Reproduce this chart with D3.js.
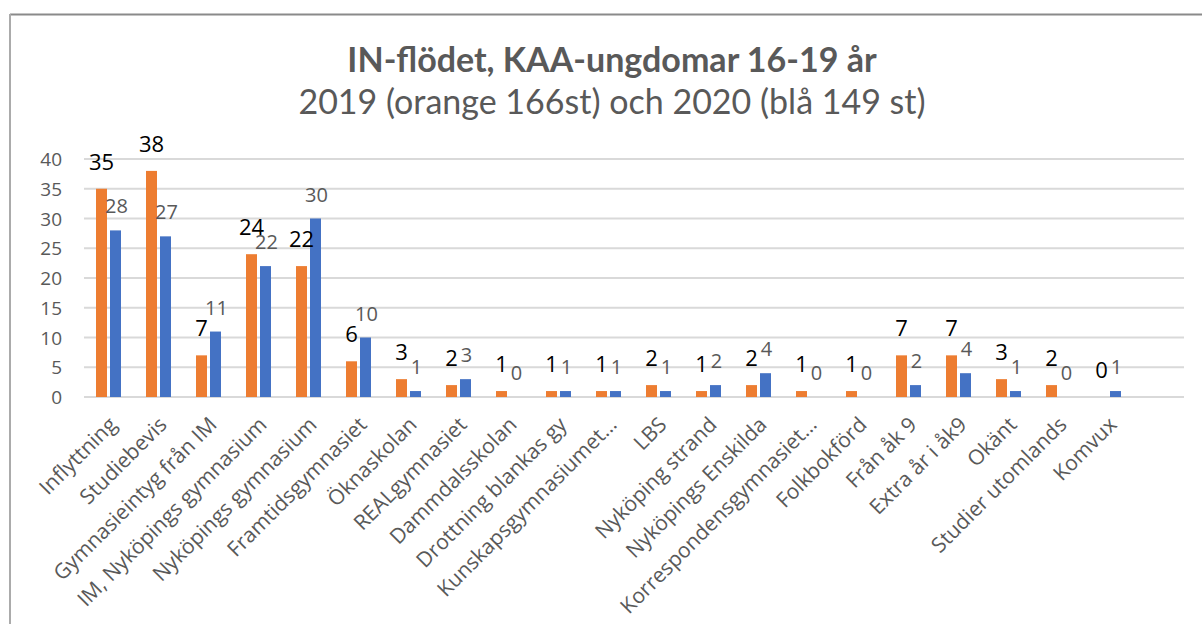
<!DOCTYPE html>
<html>
<head>
<meta charset="utf-8">
<script src="https://cdn.jsdelivr.net/npm/d3@7"></script>
<style>
  body { margin: 0; background: #fff; }
</style>
</head>
<body>
<div id="chart"></div>
<script>
const width = 1202;
const height = 624;

// categories and values (orange = 2019, blue = 2020)
const categories = [
  "Inflyttning", "Studiebevis", "Gymnasieintyg från IM", "IM, Nyköpings gymnasium",
  "Nyköpings gymnasium", "Framtidsgymnasiet", "Öknaskolan", "REALgymnasiet",
  "Dammdalsskolan", "Drottning blankas gy", "Kunskapsgymnasiumet…", "LBS",
  "Nyköping strand", "Nyköpings Enskilda", "Korrespondensgymnasiet…", "Folkbokförd",
  "Från åk 9", "Extra år i åk9", "Okänt", "Studier utomlands", "Komvux"
];
const values2019 = [35, 38, 7, 24, 22, 6, 3, 2, 1, 1, 1, 2, 1, 2, 1, 1, 7, 7, 3, 2, 0];
const values2020 = [28, 27, 11, 22, 30, 10, 1, 3, 0, 1, 1, 1, 2, 4, 0, 0, 2, 4, 1, 0, 1];
const yTicks = [0, 5, 10, 15, 20, 25, 30, 35, 40];

const svg = d3.select("#chart").append("svg")
  .attr("width", width)
  .attr("height", height)
  .style("font-family", "'Open Sans', sans-serif");

// chart frame (runs off the right and bottom edge)
svg.append("line").attr("x1", 10).attr("x2", width).attr("y1", 14.5).attr("y2", 14.5)
  .attr("stroke", "#8a8a8a").attr("stroke-width", 2);
svg.append("line").attr("x1", 10).attr("x2", 10).attr("y1", 14).attr("y2", height)
  .attr("stroke", "#ababab").attr("stroke-width", 2);

// one empty slot at the end, as in the source sheet
const x = d3.scaleBand()
  .domain(d3.range(categories.length + 1))
  .range([84, 1184]);

const y = d3.scaleLinear()
  .domain([0, 40])
  .range([397, 159]);

// gridlines
svg.append("g").selectAll("line")
  .data(yTicks)
  .enter().append("line")
  .attr("x1", 84).attr("x2", 1184)
  .attr("y1", d => y(d)).attr("y2", d => y(d))
  .attr("stroke", "#d9d9d9")
  .attr("stroke-width", 2);

// y axis labels
svg.append("g").selectAll("text")
  .data(yTicks)
  .enter().append("text")
  .attr("x", 62)
  .attr("y", d => y(d) + 7)
  .attr("text-anchor", "end")
  .attr("fill", "#595959")
  .style("font-size", "19px")
  .text(d => d);

const barW = 11;

// bars
svg.append("g").selectAll("rect")
  .data(values2019)
  .enter().append("rect")
  .attr("x", (d, i) => x(i) + 12)
  .attr("y", d => y(d))
  .attr("width", barW)
  .attr("height", d => y(0) - y(d))
  .attr("fill", "#ED7D31");

svg.append("g").selectAll("rect")
  .data(values2020)
  .enter().append("rect")
  .attr("x", (d, i) => x(i) + 26)
  .attr("y", d => y(d))
  .attr("width", barW)
  .attr("height", d => y(0) - y(d))
  .attr("fill", "#4472C4");

// data labels
svg.append("g").selectAll("text")
  .data(values2019)
  .enter().append("text")
  .attr("x", (d, i) => x(i) + 12 + barW / 2)
  .attr("y", d => y(d) - 19)
  .attr("text-anchor", "middle")
  .attr("fill", "#000")
  .style("font-size", "22px")
  .text(d => d);

svg.append("g").selectAll("text")
  .data(values2020)
  .enter().append("text")
  .attr("x", (d, i) => x(i) + 27 + barW / 2)
  .attr("y", d => y(d) - 17)
  .attr("text-anchor", "middle")
  .attr("fill", "#595959")
  .style("font-size", "20px")
  .text(d => d);

// category labels, rotated
svg.append("g").selectAll("text")
  .data(categories)
  .enter().append("text")
  .attr("transform", (d, i) => `translate(${x(i) + x.bandwidth() / 2 + 9},${426}) rotate(-45)`)
  .attr("text-anchor", "end")
  .attr("fill", "#595959")
  .style("font-size", "21px")
  .text(d => d);

// title
svg.append("text")
  .attr("x", 612).attr("y", 72)
  .attr("text-anchor", "middle")
  .attr("fill", "#595959")
  .style("font-family", "Lato, sans-serif")
  .style("font-weight", "bold")
  .style("font-size", "34px")
  .text("IN-flödet, KAA-ungdomar 16-19 år");

svg.append("text")
  .attr("x", 612).attr("y", 114)
  .attr("text-anchor", "middle")
  .attr("fill", "#595959")
  .style("font-family", "Lato, sans-serif")
  .style("font-size", "34px")
  .text("2019 (orange 166st) och 2020 (blå 149 st)");
</script>
</body>
</html>
